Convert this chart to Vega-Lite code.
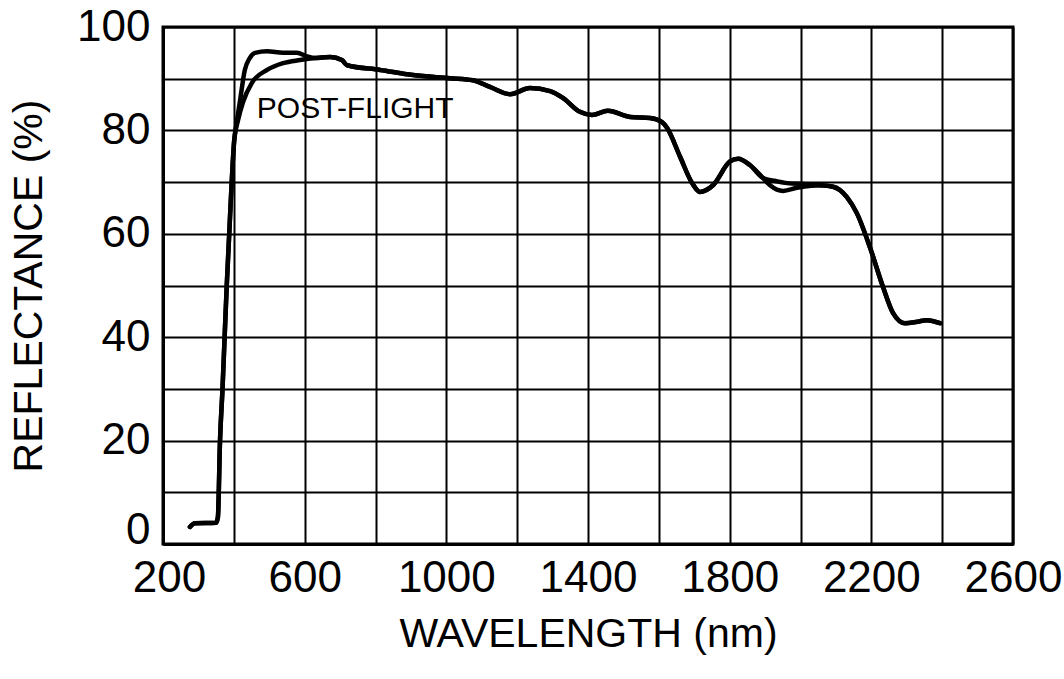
{
  "$schema": "https://vega.github.io/schema/vega-lite/v6.json",
  "width": 850,
  "height": 517,
  "autosize": {"type": "none"},
  "padding": {"left": 163, "top": 27, "right": 51, "bottom": 135},
  "background": "white",
  "config": {
    "view": {"stroke": "black", "strokeWidth": 3},
    "font": "Liberation Sans",
    "axis": {
      "labelFont": "Liberation Sans",
      "titleFont": "Liberation Sans",
      "labelColor": "black",
      "titleColor": "black",
      "labelFontSize": 44,
      "titleFontSize": 41,
      "titleFontWeight": "normal",
      "gridColor": "black",
      "gridOpacity": 1,
      "gridWidth": 2,
      "domainColor": "black",
      "domainWidth": 3,
      "ticks": false,
      "labelOverlap": false,
      "labelFlush": false,
      "labelBound": false
    }
  },
  "datasets": {
    "curves": [
      {"curve": "a", "wavelength": 276, "reflectance": 3.3},
      {"curve": "a", "wavelength": 290, "reflectance": 4.0},
      {"curve": "a", "wavelength": 350, "reflectance": 4.1},
      {"curve": "a", "wavelength": 355, "reflectance": 5.2},
      {"curve": "a", "wavelength": 361, "reflectance": 20.0},
      {"curve": "a", "wavelength": 368, "reflectance": 30.0},
      {"curve": "a", "wavelength": 374, "reflectance": 40.0},
      {"curve": "a", "wavelength": 380, "reflectance": 50.0},
      {"curve": "a", "wavelength": 387, "reflectance": 60.0},
      {"curve": "a", "wavelength": 394, "reflectance": 70.0},
      {"curve": "a", "wavelength": 401, "reflectance": 78.0},
      {"curve": "a", "wavelength": 408, "reflectance": 81.5},
      {"curve": "a", "wavelength": 417, "reflectance": 85.5},
      {"curve": "a", "wavelength": 431, "reflectance": 91.7},
      {"curve": "a", "wavelength": 445, "reflectance": 94.0},
      {"curve": "a", "wavelength": 460, "reflectance": 95.0},
      {"curve": "a", "wavelength": 494, "reflectance": 95.3},
      {"curve": "a", "wavelength": 539, "reflectance": 95.0},
      {"curve": "a", "wavelength": 578, "reflectance": 95.0},
      {"curve": "a", "wavelength": 607, "reflectance": 94.3},
      {"curve": "a", "wavelength": 630, "reflectance": 94.0},
      {"curve": "a", "wavelength": 672, "reflectance": 94.2},
      {"curve": "a", "wavelength": 705, "reflectance": 93.6},
      {"curve": "a", "wavelength": 720, "reflectance": 92.6},
      {"curve": "a", "wavelength": 813, "reflectance": 91.7},
      {"curve": "a", "wavelength": 906, "reflectance": 90.7},
      {"curve": "a", "wavelength": 1010, "reflectance": 90.1},
      {"curve": "a", "wavelength": 1075, "reflectance": 89.7},
      {"curve": "a", "wavelength": 1123, "reflectance": 88.4},
      {"curve": "a", "wavelength": 1180, "reflectance": 87.0},
      {"curve": "a", "wavelength": 1236, "reflectance": 88.2},
      {"curve": "a", "wavelength": 1293, "reflectance": 87.6},
      {"curve": "a", "wavelength": 1329, "reflectance": 86.3},
      {"curve": "a", "wavelength": 1377, "reflectance": 83.6},
      {"curve": "a", "wavelength": 1411, "reflectance": 83.0},
      {"curve": "a", "wavelength": 1456, "reflectance": 83.8},
      {"curve": "a", "wavelength": 1519, "reflectance": 82.6},
      {"curve": "a", "wavelength": 1575, "reflectance": 82.4},
      {"curve": "a", "wavelength": 1609, "reflectance": 81.6},
      {"curve": "a", "wavelength": 1623, "reflectance": 80.5},
      {"curve": "a", "wavelength": 1660, "reflectance": 74.9},
      {"curve": "a", "wavelength": 1694, "reflectance": 69.8},
      {"curve": "a", "wavelength": 1716, "reflectance": 68.1},
      {"curve": "a", "wavelength": 1753, "reflectance": 69.4},
      {"curve": "a", "wavelength": 1801, "reflectance": 74.0},
      {"curve": "a", "wavelength": 1824, "reflectance": 74.5},
      {"curve": "a", "wavelength": 1857, "reflectance": 73.3},
      {"curve": "a", "wavelength": 1894, "reflectance": 70.8},
      {"curve": "a", "wavelength": 1930, "reflectance": 70.2},
      {"curve": "a", "wavelength": 1962, "reflectance": 69.8},
      {"curve": "a", "wavelength": 2018, "reflectance": 69.6},
      {"curve": "a", "wavelength": 2055, "reflectance": 69.4},
      {"curve": "a", "wavelength": 2092, "reflectance": 69.1},
      {"curve": "a", "wavelength": 2131, "reflectance": 67.1},
      {"curve": "a", "wavelength": 2159, "reflectance": 64.0},
      {"curve": "a", "wavelength": 2196, "reflectance": 57.4},
      {"curve": "a", "wavelength": 2233, "reflectance": 49.7},
      {"curve": "a", "wavelength": 2261, "reflectance": 44.7},
      {"curve": "a", "wavelength": 2295, "reflectance": 42.7},
      {"curve": "a", "wavelength": 2330, "reflectance": 43.0},
      {"curve": "a", "wavelength": 2357, "reflectance": 43.3},
      {"curve": "a", "wavelength": 2394, "reflectance": 42.7},
      {"curve": "b", "wavelength": 276, "reflectance": 3.3},
      {"curve": "b", "wavelength": 290, "reflectance": 4.0},
      {"curve": "b", "wavelength": 350, "reflectance": 4.1},
      {"curve": "b", "wavelength": 355, "reflectance": 5.2},
      {"curve": "b", "wavelength": 361, "reflectance": 20.0},
      {"curve": "b", "wavelength": 368, "reflectance": 30.0},
      {"curve": "b", "wavelength": 374, "reflectance": 40.0},
      {"curve": "b", "wavelength": 380, "reflectance": 50.0},
      {"curve": "b", "wavelength": 387, "reflectance": 60.0},
      {"curve": "b", "wavelength": 394, "reflectance": 70.0},
      {"curve": "b", "wavelength": 401, "reflectance": 78.0},
      {"curve": "b", "wavelength": 412, "reflectance": 82.0},
      {"curve": "b", "wavelength": 426, "reflectance": 85.5},
      {"curve": "b", "wavelength": 451, "reflectance": 89.2},
      {"curve": "b", "wavelength": 494, "reflectance": 91.7},
      {"curve": "b", "wavelength": 539, "reflectance": 93.0},
      {"curve": "b", "wavelength": 587, "reflectance": 93.6},
      {"curve": "b", "wavelength": 630, "reflectance": 94.0},
      {"curve": "b", "wavelength": 672, "reflectance": 94.2},
      {"curve": "b", "wavelength": 705, "reflectance": 93.6},
      {"curve": "b", "wavelength": 720, "reflectance": 92.6},
      {"curve": "b", "wavelength": 813, "reflectance": 91.7},
      {"curve": "b", "wavelength": 906, "reflectance": 90.7},
      {"curve": "b", "wavelength": 1010, "reflectance": 90.1},
      {"curve": "b", "wavelength": 1075, "reflectance": 89.7},
      {"curve": "b", "wavelength": 1123, "reflectance": 88.4},
      {"curve": "b", "wavelength": 1180, "reflectance": 87.0},
      {"curve": "b", "wavelength": 1236, "reflectance": 88.2},
      {"curve": "b", "wavelength": 1293, "reflectance": 87.6},
      {"curve": "b", "wavelength": 1329, "reflectance": 86.3},
      {"curve": "b", "wavelength": 1377, "reflectance": 83.6},
      {"curve": "b", "wavelength": 1411, "reflectance": 83.0},
      {"curve": "b", "wavelength": 1456, "reflectance": 83.8},
      {"curve": "b", "wavelength": 1519, "reflectance": 82.6},
      {"curve": "b", "wavelength": 1575, "reflectance": 82.4},
      {"curve": "b", "wavelength": 1609, "reflectance": 81.6},
      {"curve": "b", "wavelength": 1623, "reflectance": 80.5},
      {"curve": "b", "wavelength": 1660, "reflectance": 74.9},
      {"curve": "b", "wavelength": 1694, "reflectance": 69.8},
      {"curve": "b", "wavelength": 1716, "reflectance": 68.1},
      {"curve": "b", "wavelength": 1753, "reflectance": 69.4},
      {"curve": "b", "wavelength": 1801, "reflectance": 74.0},
      {"curve": "b", "wavelength": 1824, "reflectance": 74.5},
      {"curve": "b", "wavelength": 1857, "reflectance": 73.3},
      {"curve": "b", "wavelength": 1894, "reflectance": 70.8},
      {"curve": "b", "wavelength": 1914, "reflectance": 69.4},
      {"curve": "b", "wavelength": 1951, "reflectance": 68.3},
      {"curve": "b", "wavelength": 1990, "reflectance": 68.9},
      {"curve": "b", "wavelength": 2030, "reflectance": 69.3},
      {"curve": "b", "wavelength": 2055, "reflectance": 69.4},
      {"curve": "b", "wavelength": 2092, "reflectance": 69.1},
      {"curve": "b", "wavelength": 2131, "reflectance": 67.1},
      {"curve": "b", "wavelength": 2159, "reflectance": 64.0},
      {"curve": "b", "wavelength": 2196, "reflectance": 57.4},
      {"curve": "b", "wavelength": 2233, "reflectance": 49.7},
      {"curve": "b", "wavelength": 2261, "reflectance": 44.7},
      {"curve": "b", "wavelength": 2295, "reflectance": 42.7},
      {"curve": "b", "wavelength": 2330, "reflectance": 43.0},
      {"curve": "b", "wavelength": 2357, "reflectance": 43.3},
      {"curve": "b", "wavelength": 2394, "reflectance": 42.7}
    ],
    "labels": [
      {"wavelength": 465, "reflectance": 82.4, "text": "POST-FLIGHT"}
    ]
  },
  "layer": [
    {
      "data": {"name": "curves"},
      "mark": {"type": "line", "color": "black", "strokeWidth": 4.5, "interpolate": "monotone", "strokeCap": "round", "strokeJoin": "round"},
      "encoding": {
        "x": {
          "field": "wavelength", "type": "quantitative",
          "scale": {"domain": [200, 2600], "nice": false, "zero": false},
          "axis": {
            "title": "WAVELENGTH (nm)",
            "values": [200, 400, 600, 800, 1000, 1200, 1400, 1600, 1800, 2000, 2200, 2400, 2600],
            "format": "d",
            "labelExpr": "(datum.value - 200) % 400 == 0 ? datum.label : ''",
            "labelPadding": 12,
            "labelOffset": {"condition": {"test": "datum.value == 200", "value": 6}, "value": 0},
            "titlePadding": 14,
            "grid": true
          }
        },
        "y": {
          "field": "reflectance", "type": "quantitative",
          "scale": {"domain": [0, 100], "nice": false},
          "axis": {
            "title": "REFLECTANCE (%)",
            "values": [0, 10, 20, 30, 40, 50, 60, 70, 80, 90, 100],
            "labelExpr": "datum.value % 20 == 0 ? datum.label : ''",
            "labelPadding": 13,
            "labelOffset": {"condition": {"test": "datum.value == 0", "value": -14}, "value": 0},
            "titlePadding": 26,
            "grid": true
          }
        },
        "detail": {"field": "curve", "type": "nominal"}
      }
    },
    {
      "data": {"name": "labels"},
      "mark": {"type": "text", "align": "left", "baseline": "alphabetic", "fontSize": 30, "font": "Liberation Sans", "color": "black"},
      "encoding": {
        "x": {"field": "wavelength", "type": "quantitative"},
        "y": {"field": "reflectance", "type": "quantitative"},
        "text": {"field": "text", "type": "nominal"}
      }
    }
  ]
}
